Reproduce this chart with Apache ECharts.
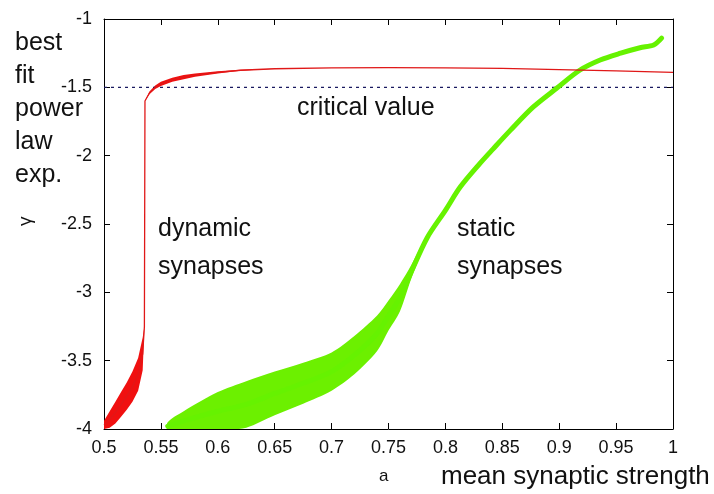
<!DOCTYPE html>
<html>
<head>
<meta charset="utf-8">
<script src="https://cdn.jsdelivr.net/npm/echarts@6/dist/echarts.min.js"></script>
<style>
  html, body { margin: 0; padding: 0; background: #fff; }
  #main { width: 714px; height: 494px; }
</style>
</head>
<body>
<div id="main"></div>
<script>
// values
// dynamic synapses (red): x, centre, half width of the noise band
const redX = [0.5, 0.505, 0.51, 0.515, 0.52, 0.525, 0.53, 0.534, 0.5355, 0.536, 0.54, 0.545, 0.55, 0.56, 0.57, 0.58, 0.6, 0.62, 0.65, 0.7, 0.75, 0.8, 0.85, 0.9, 0.95, 1.0]
const redY = [-3.97, -3.93, -3.88, -3.82, -3.76, -3.69, -3.6, -3.45, -3.25, -1.6, -1.54, -1.5, -1.475, -1.445, -1.425, -1.41, -1.39, -1.375, -1.364, -1.357, -1.356, -1.358, -1.362, -1.37, -1.38, -1.39]
const redNoise = [0.03, 0.06, 0.08, 0.09, 0.1, 0.11, 0.12, 0.12, 0, 0, 0.01, 0.013, 0.015, 0.015, 0.015, 0.012, 0.008, 0.004, 0, 0, 0, 0, 0, 0, 0, 0]

// static synapses (green)
const greenX = [0.556, 0.57, 0.6, 0.625, 0.65, 0.675, 0.7, 0.72, 0.74, 0.75, 0.76, 0.77, 0.784, 0.8, 0.813, 0.83, 0.842, 0.857, 0.877, 0.898, 0.918, 0.936, 0.954, 0.971, 0.983, 0.99]
const greenY = [-3.98, -3.94, -3.87, -3.82, -3.74, -3.665, -3.58, -3.46, -3.3, -3.17, -3.04, -2.85, -2.6, -2.4, -2.23, -2.06, -1.95, -1.815, -1.645, -1.505, -1.375, -1.3, -1.25, -1.21, -1.19, -1.14]
const greenNoise = [0.03, 0.07, 0.14, 0.17, 0.16, 0.15, 0.14, 0.14, 0.13, 0.11, 0.1, 0.05, 0.02, 0, 0, 0, 0, 0, 0, 0, 0, 0, 0, 0, 0, 0]

const criticalX = [0.5, 1.0]
const criticalY = [-1.5, -1.5]

const xTicks = { min: 0.5, max: 1, step: 0.05 }
const yTicks = { min: -4, max: -1, step: 0.5 }

const FONT = "'Liberation Sans', Arial, sans-serif"

const chart = echarts.init(document.getElementById('main'), null, { renderer: 'canvas' })

// noise band drawn as one polygon, upper edge then lower edge back
function band(xs, ys, ns, color, smooth) {
  return {
    type: 'custom',
    clip: true,
    silent: true,
    data: [[xs[0], ys[0]]],
    renderItem: (params, api) => {
      const pts = []
      xs.forEach((x, i) => pts.push(api.coord([x, ys[i] + ns[i]])))
      for (let i = xs.length - 1; i >= 0; i--) pts.push(api.coord([xs[i], ys[i] - ns[i]]))
      return { type: 'polygon', shape: { points: pts, smooth: smooth }, style: { fill: color } }
    }
  }
}

const pairs = (xs, ys) => xs.map((x, i) => [x, ys[i]])

const axisLine = { show: true, lineStyle: { color: '#000', width: 1 } }
const tick = { show: true, inside: true, length: 6, lineStyle: { color: '#000' } }
const big = `25px ${FONT}`

chart.setOption({
  animation: false,
  backgroundColor: '#fff',
  grid: { left: 104, top: 19, width: 569, height: 410, containLabel: false },
  xAxis: [{
    type: 'value', min: xTicks.min, max: xTicks.max, interval: xTicks.step,
    axisLine: axisLine, axisTick: tick,
    axisLabel: { fontFamily: FONT, fontSize: 18, color: '#111', margin: 10 },
    splitLine: { show: false }
  }, {
    type: 'value', position: 'top', min: xTicks.min, max: xTicks.max, interval: xTicks.step,
    axisLine: axisLine, axisTick: tick,
    axisLabel: { show: false },
    splitLine: { show: false }
  }],
  yAxis: [{
    type: 'value', min: yTicks.min, max: yTicks.max, interval: yTicks.step,
    axisLine: axisLine, axisTick: tick,
    axisLabel: { fontFamily: FONT, fontSize: 18, color: '#111', margin: 12 },
    splitLine: { show: false }
  }, {
    type: 'value', position: 'right', min: yTicks.min, max: yTicks.max, interval: yTicks.step,
    axisLine: axisLine, axisTick: tick,
    axisLabel: { show: false },
    splitLine: { show: false }
  }],
  series: [
    {
      name: 'critical value', type: 'line', data: pairs(criticalX, criticalY),
      showSymbol: false, silent: true,
      lineStyle: { color: '#1a1a60', width: 1.2, type: [3, 4] }
    },
    band(greenX, greenY, greenNoise, '#6cf000', 0.3),
    {
      name: 'static synapses', type: 'line', data: pairs(greenX, greenY),
      showSymbol: false, silent: true, smooth: 0.3,
      lineStyle: { color: '#66f200', width: 5, cap: 'round', join: 'round' }
    },
    band(redX, redY, redNoise, '#f01010', 0),
    {
      name: 'dynamic synapses', type: 'line', data: pairs(redX, redY),
      showSymbol: false, silent: true,
      lineStyle: { color: '#e01818', width: 1.3, join: 'round' }
    }
  ],
  graphic: [
    { type: 'text', left: 15, top: 31, style: { text: 'best', font: big, fill: '#111' } },
    { type: 'text', left: 15, top: 64, style: { text: 'fit', font: big, fill: '#111' } },
    { type: 'text', left: 15, top: 97, style: { text: 'power', font: big, fill: '#111' } },
    { type: 'text', left: 15, top: 130, style: { text: 'law', font: big, fill: '#111' } },
    { type: 'text', left: 15, top: 163, style: { text: 'exp.', font: big, fill: '#111' } },
    { type: 'text', x: 16, y: 226, rotation: Math.PI / 2, style: { text: 'γ', font: `19px ${FONT}`, fill: '#111' } },
    { type: 'text', left: 297, top: 96, style: { text: 'critical value', font: big, fill: '#111' } },
    { type: 'text', left: 158, top: 217, style: { text: 'dynamic', font: big, fill: '#111' } },
    { type: 'text', left: 158, top: 255, style: { text: 'synapses', font: big, fill: '#111' } },
    { type: 'text', left: 457, top: 217, style: { text: 'static', font: big, fill: '#111' } },
    { type: 'text', left: 457, top: 255, style: { text: 'synapses', font: big, fill: '#111' } },
    { type: 'text', left: 379, top: 468, style: { text: 'a', font: `17px ${FONT}`, fill: '#111' } },
    { type: 'text', left: 441, top: 464, style: { text: 'mean synaptic strength', font: `26px ${FONT}`, fill: '#111' } }
  ]
})
</script>
</body>
</html>
